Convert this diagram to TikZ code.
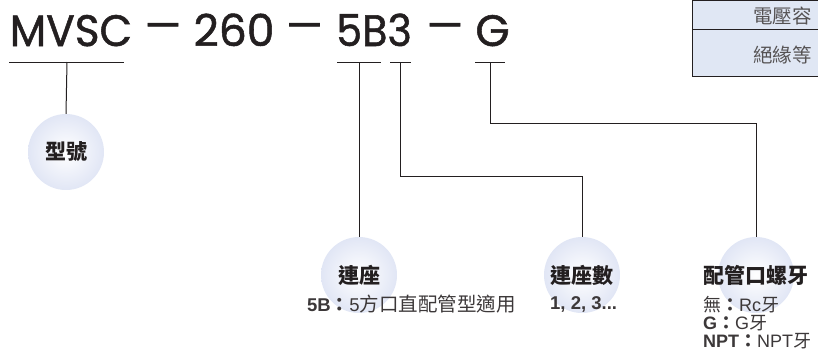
\documentclass[tikz,border=0pt]{standalone}
\usepackage{fontspec}
\setmainfont{Liberation Sans}
\newfontfamily\cjk{Noto Sans CJK TC}
\newfontfamily\pop{Poppins}[BoldFont={Poppins},BoldFeatures={FakeBold=1.2}]
\definecolor{ink}{HTML}{231F20}
\definecolor{txtgray}{HTML}{3C3839}
\definecolor{tblgray}{HTML}{555253}
\definecolor{ball}{HTML}{E1E6F5}
\definecolor{tblfill}{HTML}{E0E7F4}
\begin{document}
\begin{tikzpicture}[x=1pt,y=-1pt,
  code/.style={font=\pop\bfseries\fontsize{44}{44}\selectfont, text=ink, inner sep=0pt, anchor=base},
  dashmark/.style={font=\pop\bfseries\fontsize{44}{44}\selectfont, text=ink, inner sep=0pt, anchor=center, xscale=1.3},
  ballnode/.style={circle, minimum size=76pt, inner sep=0pt, inner color=white, outer color=ball},
  balltext/.style={font=\cjk\bfseries\fontsize{21}{21}\selectfont, text=ink, inner sep=0pt},
  note/.style={font=\fontsize{18.5}{18.5}\selectfont, text=txtgray, inner sep=0pt},
  conn/.style={draw=ink, line width=1pt},
  cell/.style={font=\cjk\fontsize{19.5}{19.5}\selectfont, text=tblgray, inner sep=0pt, anchor=west}
]
\useasboundingbox (0,0) rectangle (818,354);

% table (top right)
\draw[ink, line width=1pt, fill=tblfill] (692,0.5) rectangle (830,76.5);
\draw[ink, line width=1pt] (692,29.5) -- (830,29.5);
\node[cell] (t1) at (753,16) {電壓容};
\node[cell] (t2) at (753,55) {絕緣等};

% model code
\node[code, xscale=0.96] (m1) at (71,46) {MVSC};
\node[dashmark] (d1) at (163,32) {–};
\node[code] (m2) at (234,46) {260};
\node[dashmark] (d2) at (304.5,32) {–};
\node[code, xscale=0.94] (m3) at (374,46) {5B3};
\node[dashmark] (d3) at (445,32) {–};
\node[code] (m4) at (492.5,46) {G};

% balls
\node[ballnode] (c1) at (66,152) {};
\node[balltext] (l1) at (66,152) {型號};
\node[ballnode] (c2) at (359,275) {};
\node[balltext] (l2) at (359,275) {連座};
\node[ballnode] (c3) at (582,275) {};
\node[balltext] (l3) at (582,275) {連座數};
\node[ballnode] (c4) at (756,275) {};
\node[balltext, anchor=west] (l4) at (703,275) {配管口螺牙};

% notes
\node[note, anchor=west] (n2) at (307,304) {{\bfseries 5B}{\cjk\bfseries ：}5{\cjk\fontsize{19.5}{19.5}\selectfont 方口直配管型適用}};
\node[note, anchor=west] (n3) at (550,304) {\bfseries 1, 2, 3...};
\node[note, anchor=north west, align=left, font=\fontsize{18}{18}\selectfont] (n4) at (703,296)
  {{\cjk 無}{\cjk\bfseries ：}Rc{\cjk 牙}\\
   {\bfseries G}{\cjk\bfseries ：}G{\cjk 牙}\\
   {\bfseries NPT}{\cjk\bfseries ：}NPT{\cjk 牙}};

% underlines
\coordinate (u1a) at (9,62);   \coordinate (u1b) at (124,62);  \coordinate (u1) at (67,62);
\coordinate (u2a) at (337,62); \coordinate (u2b) at (381,62);  \coordinate (u2) at (359,62);
\coordinate (u3a) at (390,62); \coordinate (u3b) at (411,62);  \coordinate (u3) at (400,62);
\coordinate (u4a) at (475,62); \coordinate (u4b) at (505,62);  \coordinate (u4) at (490,62);
\draw[conn] (u1a) -- (u1b);
\draw[conn] (u2a) -- (u2b);
\draw[conn] (u3a) -- (u3b);
\draw[conn] (u4a) -- (u4b);

% connectors
\draw[conn] (u1) -- (c1.north);
\draw[conn] (u2) -- (c2.north);
\draw[conn] (u3) -- (400,176) -| (c3.north);
\draw[conn] (u4) -- (490,123) -| (c4.north);
\end{tikzpicture}
\end{document}
